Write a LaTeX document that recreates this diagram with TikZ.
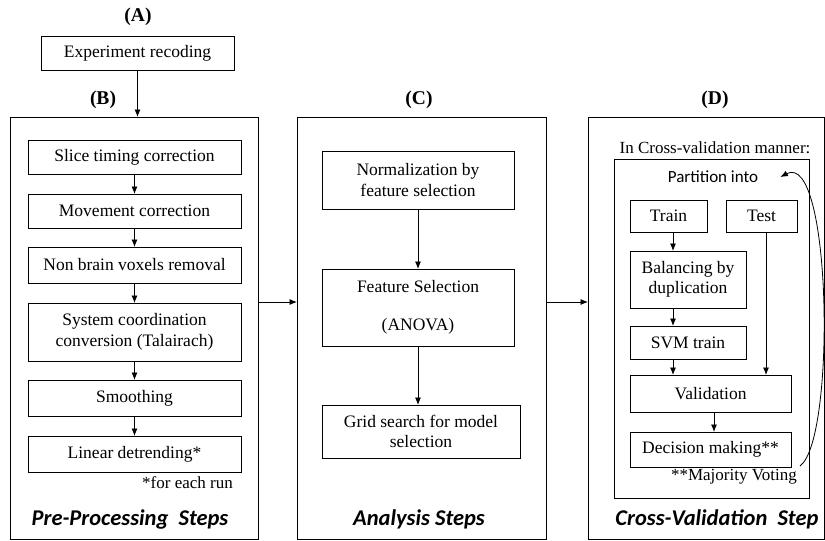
\documentclass[tikz,border=0pt]{standalone}
\usepackage{fontspec}
\setmainfont{Liberation Serif}
\newfontfamily\calfont{Carlito}
\usepackage{tikz}
\usetikzlibrary{calc, arrows.meta, positioning}
\tikzset{
    box/.style={draw, line width=0.8pt, inner sep=2pt, outer sep=0pt, align=center, font=\fontsize{17.5}{20.5}\selectfont},
    arr/.style={-{Latex[length=7.5pt,width=6pt]}, line width=0.8pt},
    tag/.style={font=\fontsize{19.5}{22}\selectfont\bfseries},
    note/.style={font=\fontsize{17}{20}\selectfont, inner sep=0pt},
    steptitle/.style={font=\fontsize{22.5}{25}\selectfont\calfont\bfseries\itshape},
}
\newcommand{\drawBox}[6]{
    \node[box, minimum width=#4pt, minimum height=#5pt] (#1) at (#2,#3) {#6};
}

\begin{document}
\begin{tikzpicture}[x=1pt, y=-1pt]
    \useasboundingbox (0,0) rectangle (825,541);

    %Frames
        \drawBox{B}{134}{328}{248}{422}{}
        \drawBox{C}{421.5}{328}{249}{422}{}
        \drawBox{D}{706}{328}{236}{422}{}
        \drawBox{cv}{711.5}{328.5}{195}{339}{}

    % Tags
        \node[tag] (tA) at (138,17) {(A)};
        \node[tag] (tB) at (103,100) {(B)};
        \node[tag] (tC) at (419,100) {(C)};
        \node[tag] (tD) at (715,100) {(D)};

    % (A)
        \drawBox{exp}{137.5}{53}{193}{34}{Experiment recoding}

    % (B) pre-processing
        \drawBox{slice}{134.5}{157}{213}{34}{Slice timing correction}
        \drawBox{move}{134.5}{211}{213}{34}{Movement correction}
        \drawBox{brain}{134.5}{265}{213}{36}{Non brain voxels removal}
        \drawBox{coord}{134.5}{332}{213}{58}{System coordination\\conversion (Talairach)}
        \drawBox{smooth}{134.5}{398}{213}{36}{Smoothing}
        \drawBox{detrend}{134.5}{454}{213}{36}{Linear detrending*}
        \node[note, anchor=east] (run) at (233,483) {*for each run};
        \node[steptitle] (preT) at (130,519) {Pre-Processing\ \ Steps};

    % (C) analysis
        \drawBox{norm}{418}{180}{192}{58}{Normalization by\\feature selection}
        \drawBox{feat}{418}{307.5}{192}{77}{Feature Selection\\[18pt](ANOVA)}
        \drawBox{grid}{421}{431.5}{198}{53}{Grid search for model\\selection}
        \node[steptitle] (anaT) at (419,519) {Analysis Steps};

    % (D) cross-validation
        \node[note] (manner) at (715,148) {In Cross-validation manner:};
        \node[note, font=\fontsize{17}{20}\selectfont\calfont] (part) at (713,177) {Partition into};
        \drawBox{train}{668.5}{216}{77}{32}{Train}
        \drawBox{test}{761.5}{216}{71}{32}{Test}
        \drawBox{bal}{688}{279.5}{116}{57}{Balancing by\\duplication}
        \drawBox{svm}{688}{342.5}{116}{33}{SVM train}
        \drawBox{valid}{710.5}{393.5}{161}{37}{Validation}
        \drawBox{dec}{710.5}{449.5}{161}{35}{Decision making**}
        \node[note, anchor=east] (vote) at (797,477) {**Majority Voting};
        \node[steptitle] (cvT) at (717,519) {Cross-Validation\ \ Step};

    % Arrows
        \draw[arr] (exp.south) -- (exp.south |- B.north);
        \draw[arr] (slice) -- (move);
        \draw[arr] (move) -- (brain);
        \draw[arr] (brain) -- (coord);
        \draw[arr] (coord) -- (smooth);
        \draw[arr] (smooth) -- (detrend);
        \draw[arr] ([yshift=26pt]B.east) -- ([yshift=26pt]C.west);
        \draw[arr] (norm) -- (feat);
        \draw[arr] (feat.south) -- (feat.south |- grid.north);
        \draw[arr] ([yshift=26pt]C.east) -- ([yshift=26pt]D.west);
        \draw[arr] ([xshift=4.5pt]train.south) -- ([xshift=4.5pt]train.south |- bal.north);
        \draw[arr] ([xshift=4.5pt]train.south |- bal.south) -- ([xshift=4.5pt]train.south |- svm.north);
        \draw[arr] ([xshift=4.5pt]train.south |- svm.south) -- ([xshift=4.5pt]train.south |- valid.north);
        \draw[arr] ([xshift=4.5pt]test.south) -- ([xshift=4.5pt]test.south |- valid.north);
        \draw[arr] ([xshift=3.5pt]valid.south) -- ([xshift=3.5pt]dec.north);

    % Loop back
        \draw[arr] ([xshift=9pt,yshift=1pt]dec.south east) .. controls (836,440) and (832,150) .. ([xshift=22pt]part.east);
\end{tikzpicture}
\end{document}
